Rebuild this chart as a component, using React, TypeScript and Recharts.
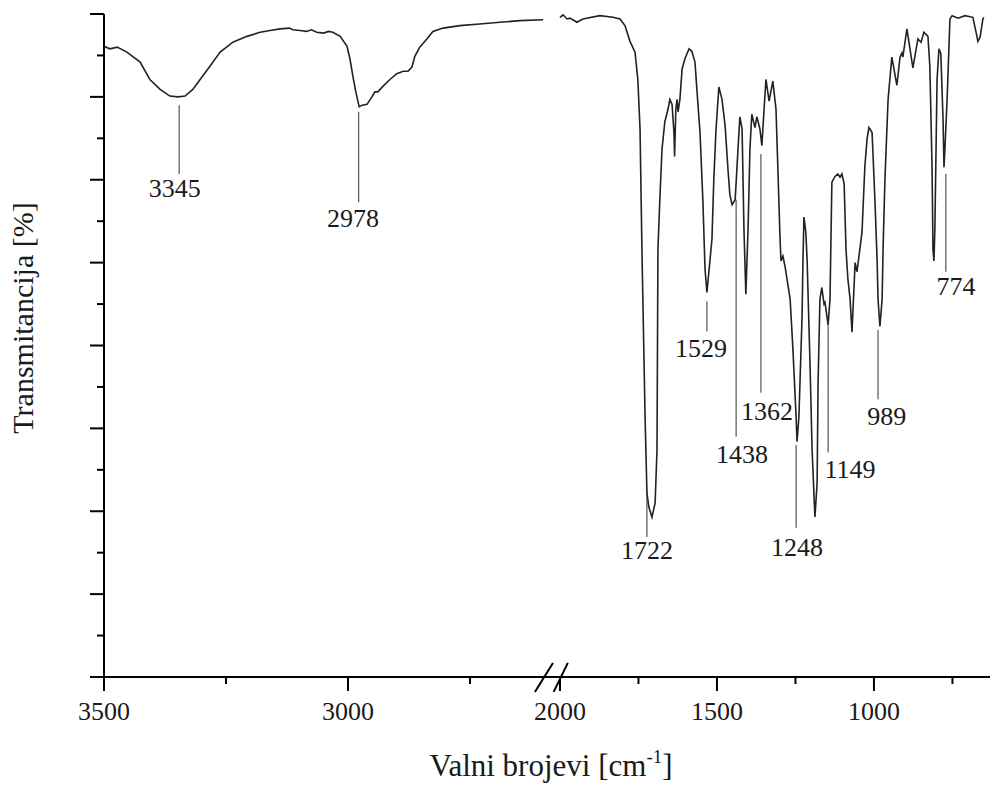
import React from 'react';
import { LineChart, Line, XAxis, YAxis, ReferenceLine, ReferenceDot, Label } from 'recharts';

// ---- spectrum data (wavenumber cm^-1, transmittance %) ----
const leftWavenumbers = [3500, 3488, 3473, 3453, 3426, 3406, 3385, 3365, 3348, 3334, 3318, 3303, 3283, 3262, 3236, 3207, 3180, 3160, 3139, 3120, 3113, 3098, 3085, 3075, 3064, 3050, 3040, 3031, 3016, 3002, 2996, 2990, 2984, 2977, 2971, 2961, 2951, 2945, 2939, 2928, 2914, 2900, 2887, 2877, 2869, 2863, 2853, 2838, 2826, 2805, 2771, 2730, 2689, 2648, 2600];
const leftTransmittance = [76.1, 75.8, 76.0, 75.4, 74.2, 72.1, 70.9, 70.1, 70.0, 70.1, 70.9, 72.1, 73.7, 75.4, 76.6, 77.3, 77.8, 78.0, 78.2, 78.3, 78.1, 78.0, 77.9, 78.1, 77.8, 77.7, 77.9, 77.8, 77.3, 76.1, 74.6, 72.5, 70.6, 68.8, 69.0, 69.1, 70.0, 70.6, 70.6, 71.3, 72.1, 72.8, 73.1, 73.1, 73.6, 74.9, 76.0, 77.0, 77.9, 78.3, 78.6, 78.8, 79.0, 79.2, 79.3];

const rightWavenumbers = [2000, 1990, 1978, 1968, 1946, 1927, 1873, 1831, 1809, 1793, 1777, 1761, 1752, 1745, 1739, 1729, 1723, 1717, 1707, 1697, 1691, 1688, 1682, 1675, 1666, 1656, 1650, 1643, 1637, 1635, 1631, 1627, 1624, 1618, 1611, 1602, 1589, 1580, 1570, 1564, 1554, 1545, 1538, 1532, 1525, 1516, 1510, 1503, 1494, 1484, 1474, 1465, 1459, 1452, 1442, 1433, 1427, 1420, 1414, 1408, 1401, 1395, 1389, 1379, 1373, 1363, 1357, 1350, 1344, 1334, 1322, 1312, 1306, 1299, 1296, 1290, 1283, 1267, 1258, 1248, 1245, 1239, 1229, 1226, 1223, 1217, 1213, 1204, 1197, 1188, 1181, 1178, 1172, 1166, 1159, 1156, 1146, 1140, 1134, 1124, 1115, 1108, 1102, 1095, 1089, 1083, 1076, 1070, 1060, 1054, 1038, 1029, 1022, 1016, 1006, 997, 990, 987, 981, 974, 971, 965, 955, 943, 927, 917, 911, 908, 895, 876, 860, 850, 841, 828, 822, 815, 812, 809, 806, 799, 793, 787, 780, 777, 774, 767, 758, 751, 732, 710, 685, 672, 669, 662, 653, 650];
const rightTransmittance = [79.6, 79.9, 79.4, 79.5, 79.0, 79.4, 79.8, 79.6, 79.4, 78.6, 76.7, 75.4, 72.1, 66.1, 51.6, 31.4, 22.2, 20.5, 19.3, 21.0, 27.4, 51.6, 57.6, 63.7, 67.0, 68.5, 69.7, 69.1, 65.7, 62.8, 68.5, 69.7, 68.2, 69.7, 73.4, 74.6, 75.8, 75.5, 74.2, 70.9, 65.7, 57.6, 49.2, 46.4, 49.2, 52.8, 60.1, 66.1, 71.2, 69.7, 66.5, 61.3, 58.2, 57.0, 57.6, 63.7, 67.6, 66.1, 54.0, 46.2, 54.0, 63.7, 67.9, 66.3, 67.6, 66.1, 64.1, 68.5, 72.1, 69.5, 71.9, 68.5, 61.3, 52.8, 50.2, 50.8, 49.5, 45.6, 39.5, 31.4, 28.4, 31.4, 43.5, 50.4, 55.5, 53.7, 50.4, 38.3, 27.4, 19.3, 23.4, 35.5, 45.6, 47.0, 45.0, 45.2, 42.5, 45.6, 59.7, 60.4, 60.7, 60.3, 60.7, 59.5, 51.6, 48.0, 45.6, 41.6, 50.0, 48.9, 53.7, 61.6, 64.9, 66.3, 65.7, 57.6, 50.4, 45.6, 42.3, 45.6, 51.6, 60.1, 69.7, 74.8, 71.4, 74.8, 75.3, 74.8, 78.2, 73.5, 77.0, 76.6, 77.8, 77.3, 73.7, 61.6, 51.6, 50.2, 54.0, 72.1, 75.8, 75.2, 67.3, 61.5, 63.7, 69.7, 79.4, 79.8, 79.5, 79.8, 79.6, 77.3, 76.7, 77.2, 79.4, 79.6];

// ---- peak annotations ----
const peakLabels = ['3345', '2978', '1722', '1529', '1438', '1362', '1248', '1149', '989', '774'];
const peakLineWn = [3346, 2978, 1723, 1532, 1439, 1360, 1248, 1146, 987, 771];
const peakLineTop = [69.0, 68.2, 22.6, 45.3, 57.6, 63.1, 28.0, 42.8, 41.9, 60.7];
const peakLineBottom = [60.7, 57.3, 16.9, 41.7, 29.0, 34.3, 18.0, 27.1, 33.5, 48.9];
const peakTextWn = [3355, 2990, 1723, 1551, 1420, 1341, 1245, 1076, 959, 739];
const peakTextT = [58.9, 55.3, 15.3, 39.6, 26.9, 32.0, 15.6, 25.0, 31.4, 47.1];

// ---- axis ticks ----
const xTickWn = [3500, 3250, 3000, 2750, 2000, 1750, 1500, 1250, 1000, 750];
const xMajorTicks = [3500, 3000, 2000, 1500, 1000];
const yTicks = [0, 5, 10, 15, 20, 25, 30, 35, 40, 45, 50, 55, 60, 65, 70, 75, 80];

// broken axis: left segment 3500..2600, right segment 2000..650 (different scales)
const LEFT_FACTOR = 1;
const RIGHT_FACTOR = 0.6434;
const RIGHT_START = 934.4;
const toU = (wn: number) =>
  wn >= 2300 ? (3500 - wn) * LEFT_FACTOR : RIGHT_START + (2000 - wn) * RIGHT_FACTOR;
const U_MAX = 1815.6;

const leftData = leftWavenumbers.map((w, i) => ({ u: toU(w), t: leftTransmittance[i] }));
const rightData = rightWavenumbers.map((w, i) => ({ u: toU(w), t: rightTransmittance[i] }));

const FONT = '"Liberation Serif", "Times New Roman", serif';
const TEXT_COLOR = '#1a1a1a';

const XTick = (props: any) => {
  const { x, y, index } = props;
  const wn = xTickWn[index];
  const major = xMajorTicks.includes(wn);
  return (
    <g>
      <line x1={x} x2={x} y1={y} y2={y + (major ? 14 : 7)} stroke="#000" strokeWidth={2} />
      {major && (
        <text x={x} y={y + 43} textAnchor="middle" fontSize={26} fontFamily={FONT} fill={TEXT_COLOR}>
          {wn}
        </text>
      )}
    </g>
  );
};

const YTick = (props: any) => {
  const { x, y, index } = props;
  const major = index % 2 === 0;
  return <line x1={x - (major ? 14 : 7)} x2={x} y1={y} y2={y} stroke="#000" strokeWidth={2} />;
};

const XTitle = (props: any) => {
  const vb = props.viewBox || { x: 104, y: 677, width: 886, height: 108 };
  const cx = 551;
  return (
    <text x={cx} y={vb.y + 99} textAnchor="middle" fontSize={31} fontFamily={FONT} fill={TEXT_COLOR}>
      <tspan>Valni brojevi [cm</tspan>
      <tspan fontSize={19} dy={-13}>-1</tspan>
      <tspan dy={13}>]</tspan>
    </text>
  );
};

const YTitle = () => (
  <text
    x={33}
    y={318}
    transform="rotate(-90 33 318)"
    textAnchor="middle"
    fontSize={30}
    fontFamily={FONT}
    fill={TEXT_COLOR}
  >
    Transmitancija [%]
  </text>
);

const PeakText = (label: string) => (p: any) => (
  <text
    x={p.cx}
    y={p.cy}
    textAnchor="middle"
    dominantBaseline="central"
    fontSize={26}
    fontFamily={FONT}
    fill={TEXT_COLOR}
  >
    {label}
  </text>
);

export default function App() {
  return (
    <div style={{ position: 'absolute', left: 0, top: 0, width: 990, height: 785, background: '#fff' }}>
      <LineChart width={990} height={785} margin={{ top: 14, right: 0, bottom: 0, left: 0 }}>
        <XAxis
          type="number"
          dataKey="u"
          domain={[0, U_MAX]}
          ticks={xTickWn.map(toU)}
          interval={0}
          allowDataOverflow
          height={108}
          tickLine={false}
          tickSize={0}
          tickMargin={0}
          tick={<XTick />}
          axisLine={{ stroke: '#000', strokeWidth: 2 }}
        >
          <Label content={<XTitle />} />
        </XAxis>
        <YAxis
          type="number"
          dataKey="t"
          domain={[0, 80]}
          ticks={yTicks}
          interval={0}
          allowDataOverflow
          width={104}
          tickLine={false}
          tickSize={0}
          tickMargin={0}
          tick={<YTick />}
          axisLine={{ stroke: '#000', strokeWidth: 2 }}
        >
          <Label content={<YTitle />} />
        </YAxis>
        <Line
          data={leftData}
          dataKey="t"
          type="linear"
          stroke="#222"
          strokeWidth={1.6}
          dot={false}
          isAnimationActive={false}
        />
        <Line
          data={rightData}
          dataKey="t"
          type="linear"
          stroke="#222"
          strokeWidth={1.6}
          dot={false}
          isAnimationActive={false}
        />
        {peakLabels.map((lab, i) => (
          <ReferenceLine
            key={'pl' + lab}
            segment={[
              { x: toU(peakLineWn[i]), y: peakLineTop[i] },
              { x: toU(peakLineWn[i]), y: peakLineBottom[i] },
            ]}
            stroke="#333"
            strokeWidth={1}
            ifOverflow="visible"
          />
        ))}
        {peakLabels.map((lab, i) => (
          <ReferenceDot
            key={'pt' + lab}
            x={toU(peakTextWn[i])}
            y={peakTextT[i]}
            r={1}
            ifOverflow="visible"
            shape={PeakText(lab)}
          />
        ))}
        <ReferenceLine
          segment={[{ x: toU(2617), y: -1.8 }, { x: toU(2580), y: 1.7 }]}
          stroke="#000"
          strokeWidth={2}
          ifOverflow="visible"
        />
        <ReferenceLine
          segment={[{ x: toU(2020), y: -1.8 }, { x: toU(1975), y: 1.7 }]}
          stroke="#000"
          strokeWidth={2}
          ifOverflow="visible"
        />
      </LineChart>
    </div>
  );
}
